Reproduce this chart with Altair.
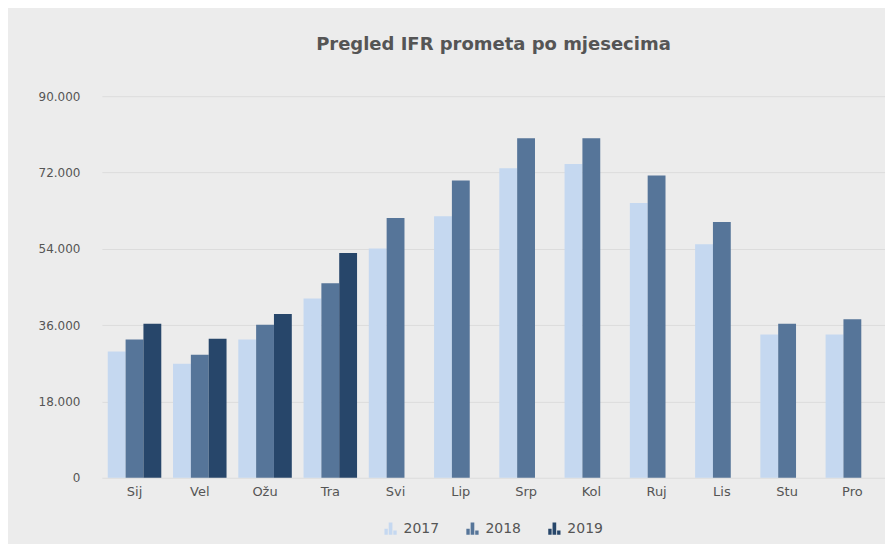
import altair as alt
import pandas as pd

months = ["Sij", "Vel", "Ožu", "Tra", "Svi", "Lip", "Srp", "Kol", "Ruj", "Lis", "Stu", "Pro"]
years = ["2017", "2018", "2019"]
v2017 = [29800, 26900, 32600, 42300, 54100, 61700, 73000, 74000, 64800, 55100, 33800, 33800]
v2018 = [32600, 29000, 36100, 45900, 61300, 70100, 80100, 80100, 71300, 60300, 36300, 37400]
v2019 = [36300, 32800, 38600, 53000, None, None, None, None, None, None, None, None]
colors = ["#c5d8f0", "#567599", "#27466a"]

rows = []
for y, vals in zip(years, [v2017, v2018, v2019]):
    for m, v in zip(months, vals):
        if v is not None:
            rows.append({"month": m, "year": y, "value": v})
df = pd.DataFrame(rows)

bar_icon = ("M-1,1 L-0.45,1 L-0.45,0 L-1,0 Z "
            "M-0.3,1 L0.3,1 L0.3,-1 L-0.3,-1 Z "
            "M0.45,1 L1,1 L1,0.3 L0.45,0.3 Z")

font = "DejaVu Sans"

chart = alt.Chart(df).mark_bar().encode(
    x=alt.X("month:N", sort=months,
            scale=alt.Scale(paddingInner=0.18, paddingOuter=0.09),
            axis=alt.Axis(title=None, labelAngle=0, domain=False, ticks=False,
                          labelPadding=8, labelFontSize=13, labelColor="#555555",
                          labelFont=font, grid=False)),
    xOffset=alt.XOffset("year:N", scale=alt.Scale(domain=years, paddingInner=0, paddingOuter=0)),
    y=alt.Y("value:Q",
            scale=alt.Scale(domain=[0, 90000]),
            axis=alt.Axis(title=None, values=[0, 18000, 36000, 54000, 72000, 90000],
                          labelExpr="replace(format(datum.value, ','), ',', '.')",
                          domain=False, ticks=False, labelPadding=22,
                          labelFontSize=12, labelColor="#555555", labelFont=font,
                          gridColor="#dcdcdc", gridWidth=1)),
    color=alt.Color("year:N", scale=alt.Scale(domain=years, range=colors),
                    legend=alt.Legend(title=None, orient="none", direction="horizontal",
                                      legendX=282, legendY=426,
                                      symbolType=bar_icon, symbolSize=150, symbolStrokeWidth=0,
                                      labelFontSize=14, labelColor="#555555", labelFont=font,
                                      labelOffset=6, columnPadding=26)),
).properties(
    width=784,
    height=382,
    title=alt.Title("Pregled IFR prometa po mjesecima", fontSize=18, fontWeight="bold",
                    color="#555555", font=font, anchor="middle", offset=36),
    background="#ececec",
    padding={"left": 94, "top": 88, "right": 0, "bottom": 66},
    autosize="none",
).configure_view(stroke=None)

chart.save("out.html", embed_options={"renderer": "svg", "actions": False})
